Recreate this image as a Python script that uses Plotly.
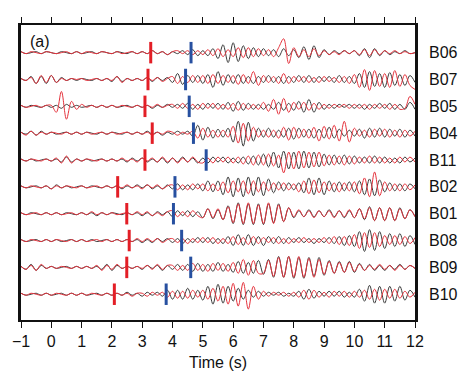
import numpy as np
import plotly.graph_objects as go

# ---- data -------------------------------------------------------------
stations = ["B06", "B07", "B05", "B04", "B11", "B02", "B01", "B08", "B09", "B10"]
p_pick = [3.28, 3.19, 3.09, 3.33, 3.09, 2.19, 2.49, 2.57, 2.49, 2.08]
s_pick = [4.61, 4.43, 4.55, 4.69, 5.11, 4.08, 4.03, 4.30, 4.60, 3.79]
x_ticks = list(range(-1, 13))

T0 = -1.0          # first sample time (s)
DT = 1.0 / 6.0     # sample interval (s)

# waveform amplitudes (pixel units), one sample every DT
B06_black = [1,-1,0,1,-1,1, 0,-1,1,0,-1,1, -1,0,1,-1,1,0, -1,1,0,-1,1,-1, 1,-1,2,-1,1,-2,
             1,-1,2,-2,3,-3, 2,-3,4,-6,8,-10, 10,-9,7,-6,5,-4, 4,-3,3,-4,4,-3, 3,-5,6,-7,7,-5,
             3,-2,2,-1,2,-1, 2,-3,4,-5,4,-3, 2,-2,1,-1,2,-1, 0]
B06_red = [1,-1,1,0,-1,1, 0,-1,0,1,-1,1, -1,1,0,-1,1,0, -1,1,-1,0,1,-1, 1,-1,2,-1,1,-2,
           1,2,-1,2,-2,2, -2,3,-3,4,-4,3, -4,5,-5,5,-4,4, -3,3,-4,5,14,-11, 5,-4,3,-4,4,-3,
           2,-2,1,-2,2,-1, 2,-2,3,-3,3,-2, 2,-1,2,-1,1,-1, 0]
B07_black = [1,-1,3,-4,3,-4, 4,-3,2,-1,1,-1, 1,0,-1,1,-1,1, -2,3,-2,1,-1,1, -1,2,-2,2,-1,2,
             -3,6,-5,4,-3,4, -4,5,-8,8,-6,5, -4,5,-4,3,-4,3, -3,4,-3,3,-4,3, -3,4,-3,4,-3,3,
             -2,3,-3,4,-3,3, -4,6,-8,8,-7,6, -8,7,-6,5,-6,4, -3]
B07_red = [1,-1,2,-4,4,-3, 4,-3,1,-1,1,0, 1,-1,0,1,-1,1, -1,3,-3,1,-1,1, -1,2,-1,2,-2,1,
           3,-4,3,-3,4,-3, 4,-4,5,-4,4,-3, 4,-5,5,-4,8,-6, 4,-3,3,-4,6,-4, 3,-2,3,-3,2,-3,
           3,-2,2,-3,3,-4, 5,-8,10,-11,9,-7, 6,-8,9,-7,5,-6, -10]
B05_black = [1,-1,1,0,-1,1, -1,1,-2,2,-1,1, -1,0,1,-1,1,-1, 1,-1,0,1,-1,1, -1,1,-2,1,-1,2,
             -1,2,-2,3,-3,2, -3,3,-2,3,-3,4, -5,5,-4,3,-3,2, -3,2,-3,4,-4,3, -4,5,-6,7,-6,4,
             -3,2,-2,2,-1,2, -2,2,-3,2,-2,3, -2,3,-3,2,-3,4, -3]
B05_red = [1,-1,0,1,-1,1, 1,-6,15,-13,5,-3, 2,-1,1,-1,1,-1, 1,-1,1,0,-1,1, -1,1,-1,2,-1,1,
           2,-2,3,-2,2,-3, 3,-2,3,-3,2,-3, 3,-4,3,-3,2,-3, 4,-5,7,-8,8,-6, 4,-3,4,-4,3,-3,
           2,-2,2,-1,2,-2, 2,-2,2,-3,2,-2, 2,-3,2,-3,-2,10, 2]
B04_black = [1,-1,2,-2,2,-1, 1,-1,0,1,-1,1, -1,1,0,-1,1,-1, 1,0,-1,1,-1,1, -1,2,-1,1,-2,1,
             -1,2,-1,2,-3,8, -7,6,-5,4,-4,5, -9,12,-13,11,-8,5, -4,5,-4,3,-4,5, -6,5,-4,4,-5,4,
             -5,6,-5,4,-3,3, -3,4,-5,5,-4,5, -4,4,-3,4,-4,3, -3]
B04_red = [1,-2,2,-2,1,-1, 1,0,-1,1,-1,1, -1,1,-1,0,1,-1, 1,-1,0,1,-1,1, -1,1,-2,1,-1,2,
           1,-2,1,-1,2,-5, 5,-4,3,-4,3,-4, 7,-10,10,-8,6,-4, 3,-4,3,-5,6,-7, 6,-5,4,-5,6,-8,
           7,-6,8,-8,12,-9, 5,-3,3,-4,4,-3, 4,-4,3,-4,3,-3, 2]
B11_black = [1,-1,1,-1,0,1, -1,1,-2,3,-2,1, -1,1,-1,0,1,-1, 1,-1,1,-2,2,-1, 2,-2,1,-2,2,-3,
             2,-2,3,-2,2,-3, 2,-3,3,-2,3,-3, 2,-3,3,-4,4,-5, 6,-7,8,-8,9,-9, 8,-9,9,-8,8,-7,
             6,-5,5,-4,5,-4, 4,-3,3,-3,4,-3, 3,-3,2,-3,3,-2, 2]
B11_red = [1,-1,1,0,-1,1, -1,2,-3,4,-3,1, -1,1,0,-1,1,-1, 1,-1,2,-1,1,-2, 2,-1,2,-2,3,-2,
           2,-3,2,-2,3,-2, -3,2,-3,3,-2,3, -3,3,-4,4,-5,5, -5,6,-6,5,-13,8, -9,9,-8,8,-7,8,
           -6,5,-5,4,-5,4, -4,3,-3,4,-3,3, -3,2,-3,3,-2,3, -2]
B02_black = [1,-1,0,1,-1,1, -2,2,-1,1,-1,0, 1,-1,1,0,-1,1, -1,1,-2,1,-1,2, -1,2,-2,1,-2,2,
             -2,3,-3,2,-3,3, -4,6,-5,6,-8,10, -10,9,-10,10,-9,10, -9,8,-6,5,-4,4, -3,4,-6,9,-8,9,
             -8,6,-5,5,-4,5, -5,6,-8,8,-9,7, -5,4,-4,3,-4,3, -2]
B02_red = [1,-1,1,0,-1,1, -2,1,-1,1,0,-1, 1,-1,0,1,-1,1, -1,1,-1,2,-1,1, -2,2,-1,2,-2,1,
           2,-3,2,-3,3,-2, 3,-4,3,-4,5,-6, 6,-5,6,-7,6,-5, 5,-4,4,-3,4,-3, 3,-5,6,-7,7,-6,
           5,-4,4,-5,4,-4, 5,-7,9,-10,15,-9, 5,-4,3,-4,3,-3, 2]
B01_black = [1,-1,1,0,-1,1, -1,1,-1,1,0,-1, 1,-1,1,-2,1,-1, 1,0,-1,1,-1,1, -2,1,-2,2,-1,2,
             -3,3,-2,3,-3,2, -4,5,-5,4,-6,8, -10,11,-11,10,-11,10, -11,10,-9,10,-8,6, -4,3,-3,4,-3,3,
             -3,4,-3,3,-4,3, -4,5,-6,7,-7,6, -7,6,-7,6,-5,4, -3]
B01_red = [1,-1,0,1,-1,1, -1,1,-1,0,1,-1, 1,-1,2,-1,1,-1, 1,-1,0,1,-1,2, -1,2,-2,1,-2,2,
           3,-3,2,-3,3,-2, -4,5,-4,5,-6,7, -9,10,-10,11,-10,9, -10,11,-10,9,-8,6, -3,4,-3,3,-4,3,
           -3,3,-4,3,-3,4, -4,5,-5,6,-7,6, -7,6,-7,5,-5,4, -3]
B08_black = [1,-1,0,1,-1,1, -1,1,-1,0,1,-1, 1,-1,1,-1,0,1, -1,1,-1,1,-1,1, -2,1,-2,2,-1,2,
             -2,2,-3,2,-2,3, -2,3,-3,2,-3,4, -5,6,-5,6,-5,4, -5,4,-3,4,-3,3, -2,3,-2,2,-3,2,
             -2,3,-3,4,-5,5, -6,9,-11,11,-10,9, -8,7,-6,7,-6,5, -4]
B08_red = [1,-1,1,0,-1,1, -1,1,0,-1,1,-1, 1,-1,0,1,-1,1, -1,1,-1,1,-1,2, -1,2,-1,2,-2,1,
           2,-2,2,-3,2,-2, 3,-2,3,-3,2,-3, 4,-4,3,-4,4,-3, 3,-2,3,-3,2,-3, 2,-2,3,-2,2,-2,
           3,-3,4,-4,4,-5, 6,-8,8,-7,8,-6, 5,-4,5,-4,4,-3, 3]
B09_black = [1,-2,3,-3,2,-1, 1,-1,0,1,-1,1, -1,1,-1,1,-2,3, -3,2,-1,1,-1,1, -2,2,-1,2,-3,2,
             -2,3,-3,3,-4,4, -4,3,-4,5,-4,3, -5,6,-6,5,-6,7, -7,8,-10,11,-10,11, -11,10,-11,10,-9,10,
             -8,7,-6,6,-5,6, -5,4,-3,3,-3,2, -3,2,-2,3,-2,2, -1]
B09_red = [1,-2,2,-3,3,-1, 1,-1,1,0,-1,1, -1,1,-1,2,-3,2, -2,3,-1,1,-1,1, -1,2,-2,3,-2,2,
           2,-3,2,-3,4,-3, 3,-4,4,-3,4,-4, 5,-6,8,-8,7,-6, -6,7,-9,10,-10,11, -10,11,-10,9,-10,8,
           -7,6,-6,5,-5,5, -4,3,-3,2,-2,3, -2,2,-3,2,-2,2, -1]
B10_black = [1,-1,0,1,-1,1, -1,0,1,-1,1,-1, 1,-1,0,1,-1,1, -1,1,-1,2,-1,1, -2,2,-1,2,-2,4,
             -5,4,-5,6,-5,4, -6,8,-10,10,-9,8, -7,6,-5,4,-3,3, -2,2,-1,2,-2,1, -2,3,-5,5,-4,3,
             -2,3,-2,3,-3,2, -3,5,-7,9,-9,8, -9,8,-7,8,-6,4, -3]
B10_red = [1,-1,1,0,-1,1, -1,1,0,-1,1,-1, 1,-1,1,0,-1,1, -1,1,-1,1,-2,1, 1,-2,2,-1,2,-3,
           3,-4,3,-4,4,-3, 4,-5,6,-7,8,-10, 11,-12,12,-15,8,-5, 3,-2,2,-1,2,-2, 2,-3,4,-5,4,-3,
           2,-3,3,-2,3,-3, 3,-3,4,-5,5,-6, 5,-4,5,-4,3,-3, 2]

black_series = [B06_black, B07_black, B05_black, B04_black, B11_black,
                B02_black, B01_black, B08_black, B09_black, B10_black]
red_series = [B06_red, B07_red, B05_red, B04_red, B11_red,
              B02_red, B01_red, B08_red, B09_red, B10_red]

# ---- presentation -----------------------------------------------------
AMP = 1.0 / 27.1     # pixel amplitude -> trace spacing units
PICK_HALF = 0.40
FONT = "Liberation Sans, Arial, sans-serif"

n = len(stations)
offsets = [n - k for k in range(n)]   # B06 on top


def build(series_list):
    xs, ys = [], []
    for off, vals in zip(offsets, series_list):
        t = T0 + DT * np.arange(len(vals))
        xs.extend(t.tolist()); xs.append(None)
        ys.extend((off + np.asarray(vals, float) * AMP).tolist()); ys.append(None)
    return xs, ys


def picks(times):
    xs, ys = [], []
    for off, tp in zip(offsets, times):
        xs += [tp, tp, None]
        ys += [off - PICK_HALF, off + PICK_HALF, None]
    return xs, ys


fig = go.Figure()
bx, by = build(black_series)
rx, ry = build(red_series)
fig.add_trace(go.Scatter(x=bx, y=by, mode="lines", line=dict(color="#3a3a3a", width=1.0, shape="spline"),
                         hoverinfo="skip", showlegend=False))
fig.add_trace(go.Scatter(x=rx, y=ry, mode="lines", line=dict(color="#e5323c", width=1.0, shape="spline"),
                         hoverinfo="skip", showlegend=False))
px_, py_ = picks(p_pick)
fig.add_trace(go.Scatter(x=px_, y=py_, mode="lines", line=dict(color="#e31e26", width=3),
                         hoverinfo="skip", showlegend=False))
sx_, sy_ = picks(s_pick)
fig.add_trace(go.Scatter(x=sx_, y=sy_, mode="lines", line=dict(color="#2750a0", width=3),
                         hoverinfo="skip", showlegend=False))

for off, name in zip(offsets, stations):
    fig.add_annotation(x=1, xref="paper", y=off, yref="y", text=name, showarrow=False,
                       xanchor="left", yanchor="middle", xshift=12,
                       font=dict(family=FONT, size=16, color="#111"))

fig.add_annotation(x=0, xref="paper", y=1, yref="paper", text="(a)", showarrow=False,
                   xanchor="left", yanchor="top", xshift=7, yshift=-6,
                   font=dict(family=FONT, size=16, color="#111"))

fig.update_layout(
    width=463, height=381,
    margin=dict(l=21, r=48, t=25, b=58),
    paper_bgcolor="white", plot_bgcolor="white",
    font=dict(family=FONT, size=16, color="#111"),
    xaxis=dict(range=[-1, 12], tickvals=x_ticks, ticks="outside", ticklen=6, tickwidth=1.2,
               tickcolor="#111", showline=True, linecolor="#111", linewidth=1.5,
               mirror="allticks", showgrid=False, zeroline=False,
               title=dict(text="Time (s)", font=dict(family=FONT, size=16), standoff=8),
               tickfont=dict(family=FONT, size=16)),
    yaxis=dict(range=[0.04, 11.03], showticklabels=False, ticks="", showline=True,
               linecolor="#111", linewidth=2.5, mirror=True, showgrid=False, zeroline=False),
)

fig.write_html("out.html", config={"displayModeBar": False},
               post_script="document.body.style.margin='0px';")
